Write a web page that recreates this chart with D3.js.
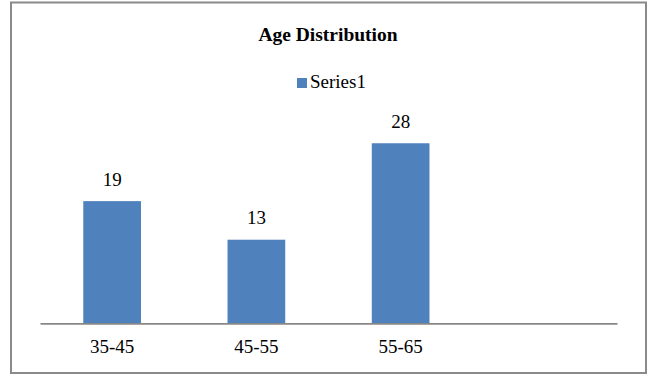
<!DOCTYPE html>
<html>
<head>
<meta charset="utf-8">
<script src="https://cdn.jsdelivr.net/npm/d3@7"></script>
<style>
  html, body { margin: 0; padding: 0; background: #ffffff; }
  svg { display: block; }
</style>
</head>
<body>
<svg id="chart" width="649" height="376"></svg>
<script>
const title = "Age Distribution";
const seriesName = "Series1";
const categories = ["35-45", "45-55", "55-65", ""];
const values = [19, 13, 28, null];
const yDomain = [0, 30];

const svg = d3.select("#chart");
const W = 649, H = 376;
const serif = "'Liberation Serif', 'Times New Roman', serif";

// outer border
svg.append("rect")
  .attr("x", 11).attr("y", 2.5)
  .attr("width", 635).attr("height", 370.5)
  .attr("fill", "#ffffff")
  .attr("stroke", "#8a8a8a")
  .attr("stroke-width", 2);

const x = d3.scaleBand()
  .domain(categories)
  .range([40, 617])
  .paddingInner(0.6)
  .paddingOuter(0.3);

const y = d3.scaleLinear()
  .domain(yDomain)
  .range([323.3, 323.3 - 6.43 * 30]);

// title
svg.append("text")
  .attr("x", 328).attr("y", 41)
  .attr("text-anchor", "middle")
  .attr("font-family", serif)
  .attr("font-weight", "bold")
  .attr("font-size", 19.5)
  .attr("fill", "#000")
  .text(title);

// legend
const legend = svg.append("g");
legend.append("rect")
  .attr("x", 297).attr("y", 78)
  .attr("width", 10).attr("height", 10)
  .attr("fill", "#4F81BD");
legend.append("text")
  .attr("x", 310).attr("y", 88)
  .attr("font-family", serif)
  .attr("font-size", 19)
  .attr("fill", "#000")
  .text(seriesName);

const data = categories.map((c, i) => ({ c, v: values[i] })).filter(d => d.v != null);

// bars
svg.append("g").selectAll("rect")
  .data(data)
  .join("rect")
  .attr("x", d => x(d.c))
  .attr("y", d => y(d.v))
  .attr("width", x.bandwidth())
  .attr("height", d => y(0) - y(d.v))
  .attr("fill", "#4F81BD");

// data labels
svg.append("g").selectAll("text")
  .data(data)
  .join("text")
  .attr("x", d => x(d.c) + x.bandwidth() / 2)
  .attr("y", d => y(d.v) - 15.5)
  .attr("text-anchor", "middle")
  .attr("font-family", serif)
  .attr("font-size", 19)
  .attr("fill", "#000")
  .text(d => d.v);

// x axis
const xAxis = d3.axisBottom(x).tickSize(0).tickPadding(0);
const gx = svg.append("g")
  .attr("transform", `translate(0,${y(0)})`)
  .call(xAxis);
gx.select(".domain")
  .attr("stroke", "#878787")
  .attr("stroke-width", 1.8);
gx.selectAll(".tick text")
  .attr("font-family", serif)
  .attr("font-size", 19)
  .attr("fill", "#000")
  .attr("dy", null)
  .attr("y", 30);
</script>
</body>
</html>
